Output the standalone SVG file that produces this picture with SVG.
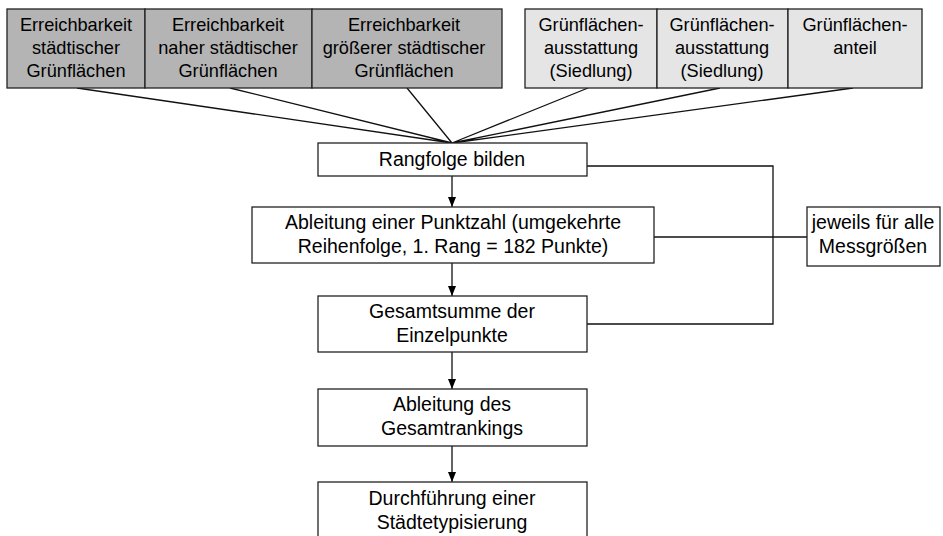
<svg xmlns="http://www.w3.org/2000/svg" width="943" height="536" viewBox="0 0 943 536">
<defs>
<style>
.t{font-family:"Liberation Sans",Arial,sans-serif;font-size:19.5px;fill:#000;text-anchor:middle}
.s{font-size:18.2px}
.b{stroke:#222;stroke-width:1.3;fill:#fff}
.d{fill:#b4b4b4}
.l{fill:#e5e5e5}
.c{stroke:#111;stroke-width:1.3;fill:none}
</style>
<marker id="ah" viewBox="0 0 10 8" refX="10" refY="4" markerWidth="10" markerHeight="8" markerUnits="userSpaceOnUse" orient="auto"><path d="M0,0L10,4L0,8z" fill="#000"/></marker>
</defs>
<rect width="943" height="536" fill="#fff"/>
<g id="connectors">
<path class="c" d="M77,88L452,143M230,88L452,143M407,88L452,143M588,88L452,143M720,88L452,143M853,88L452,143"/>
<path class="c" d="M452,176V207" marker-end="url(#ah)"/>
<path class="c" d="M452,263V296" marker-end="url(#ah)"/>
<path class="c" d="M452,352V389" marker-end="url(#ah)"/>
<path class="c" d="M452,446V482" marker-end="url(#ah)"/>
<path class="c" d="M587,166H773V324H587"/>
<path class="c" d="M654,237H807"/>
</g>
<g id="n1"><rect class="b d" x="7" y="9" width="138" height="79"/><text class="t s" x="76" y="31">Erreichbarkeit</text><text class="t s" x="76" y="54">städtischer</text><text class="t s" x="76" y="77">Grünflächen</text></g>
<g id="n2"><rect class="b d" x="145" y="9" width="167" height="79"/><text class="t s" x="228" y="31">Erreichbarkeit</text><text class="t s" x="228" y="54">naher städtischer</text><text class="t s" x="228" y="77">Grünflächen</text></g>
<g id="n3"><rect class="b d" x="312" y="9" width="190" height="79"/><text class="t s" x="404" y="31">Erreichbarkeit</text><text class="t s" x="404" y="54">größerer städtischer</text><text class="t s" x="404" y="77">Grünflächen</text></g>
<g id="n4"><rect class="b l" x="525" y="9" width="132" height="79"/><text class="t s" x="591" y="31">Grünflächen-</text><text class="t s" x="591" y="54">ausstattung</text><text class="t s" x="591" y="77">(Siedlung)</text></g>
<g id="n5"><rect class="b l" x="657" y="9" width="131" height="79"/><text class="t s" x="722" y="31">Grünflächen-</text><text class="t s" x="722" y="54">ausstattung</text><text class="t s" x="722" y="77">(Siedlung)</text></g>
<g id="n6"><rect class="b l" x="788" y="9" width="134" height="79"/><text class="t s" x="855" y="31">Grünflächen-</text><text class="t s" x="855" y="54">anteil</text></g>
<g id="rang"><rect class="b" x="318" y="143" width="269" height="33"/><text class="t" x="452" y="166">Rangfolge bilden</text></g>
<g id="punkt"><rect class="b" x="252" y="207" width="402" height="56"/><text class="t" x="453" y="229">Ableitung einer Punktzahl (umgekehrte</text><text class="t" x="453" y="253">Reihenfolge, 1. Rang = 182 Punkte)</text></g>
<g id="jeweils"><rect class="b" x="807" y="207" width="133" height="59"/><text class="t" x="873" y="229">jeweils für alle</text><text class="t" x="873" y="253">Messgrößen</text></g>
<g id="summe"><rect class="b" x="318" y="296" width="269" height="56"/><text class="t" x="452" y="318">Gesamtsumme der</text><text class="t" x="452" y="342">Einzelpunkte</text></g>
<g id="ranking"><rect class="b" x="318" y="389" width="269" height="57"/><text class="t" x="452" y="411">Ableitung des</text><text class="t" x="452" y="435">Gesamtrankings</text></g>
<g id="typ"><rect class="b" x="318" y="482" width="269" height="60"/><text class="t" x="452" y="505">Durchführung einer</text><text class="t" x="452" y="529">Städtetypisierung</text></g>
</svg>
